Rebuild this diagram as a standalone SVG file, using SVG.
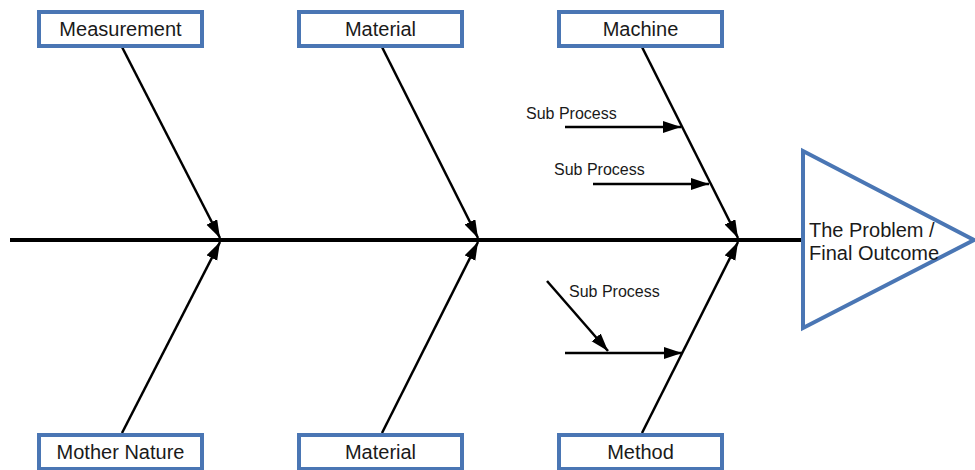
<svg xmlns="http://www.w3.org/2000/svg" width="975" height="470" viewBox="0 0 975 470">
  <style>
    .box { fill: #ffffff; stroke: #4a76b4; stroke-width: 4; }
    .lbl { font-family: "Liberation Sans", Arial, sans-serif; font-size: 20px; fill: #1a1a1a; text-anchor: middle; }
    .sub { font-family: "Liberation Sans", Arial, sans-serif; font-size: 16px; fill: #1a1a1a; }
    .big { font-family: "Liberation Sans", Arial, sans-serif; font-size: 20px; fill: #1a1a1a; }
    .bone { stroke: #000; stroke-width: 2.5; fill: none; }
    .arr { marker-end: url(#head); }
  </style>
  <defs>
    <marker id="head" markerUnits="userSpaceOnUse" markerWidth="20" markerHeight="14" refX="18" refY="6" orient="auto">
      <path d="M0,0 L18,6 L0,12 Z" fill="#000"/>
    </marker>
  </defs>

  <!-- connectors: spine, category bones, sub-process arrows -->
  <g id="connectors">
    <line x1="10" y1="240" x2="805" y2="240" stroke="#000" stroke-width="4"/>
    <line class="bone arr" x1="122" y1="47" x2="220" y2="238"/>
    <line class="bone arr" x1="382" y1="47" x2="478" y2="238"/>
    <line class="bone arr" x1="642" y1="47" x2="738" y2="238"/>
    <line class="bone arr" x1="122" y1="433" x2="220" y2="242"/>
    <line class="bone arr" x1="382" y1="433" x2="478" y2="242"/>
    <line class="bone arr" x1="642" y1="433" x2="738" y2="242"/>
    <line class="bone arr" x1="565" y1="127" x2="681" y2="127"/>
    <line class="bone arr" x1="593" y1="184" x2="709" y2="184"/>
    <line class="bone arr" x1="565" y1="353" x2="682" y2="353"/>
    <line class="bone arr" x1="547" y1="281" x2="608" y2="351"/>
  </g>

  <g id="measurement">
    <rect class="box" x="39" y="12" width="163" height="34"/>
    <text class="lbl" x="120.5" y="36">Measurement</text>
  </g>
  <g id="material-top">
    <rect class="box" x="299" y="12" width="163" height="34"/>
    <text class="lbl" x="380.5" y="36">Material</text>
  </g>
  <g id="machine">
    <rect class="box" x="559" y="12" width="163" height="34"/>
    <text class="lbl" x="640.5" y="36">Machine</text>
  </g>
  <g id="mother-nature">
    <rect class="box" x="39" y="435" width="163" height="34"/>
    <text class="lbl" x="120.5" y="459">Mother Nature</text>
  </g>
  <g id="material-bottom">
    <rect class="box" x="299" y="435" width="163" height="34"/>
    <text class="lbl" x="380.5" y="459">Material</text>
  </g>
  <g id="method">
    <rect class="box" x="559" y="435" width="163" height="34"/>
    <text class="lbl" x="640.5" y="459">Method</text>
  </g>

  <g id="sub-process-1">
    <text class="sub" x="526" y="119">Sub Process</text>
  </g>
  <g id="sub-process-2">
    <text class="sub" x="554" y="175">Sub Process</text>
  </g>
  <g id="sub-process-3">
    <text class="sub" x="569" y="297">Sub Process</text>
  </g>

  <g id="problem">
    <polygon points="803,151 803,328 974,240" fill="#ffffff" stroke="#4a76b4" stroke-width="4" stroke-linejoin="miter"/>
    <text class="big" x="809" y="237">The Problem /</text>
    <text class="big" x="809" y="260">Final Outcome</text>
  </g>
</svg>
